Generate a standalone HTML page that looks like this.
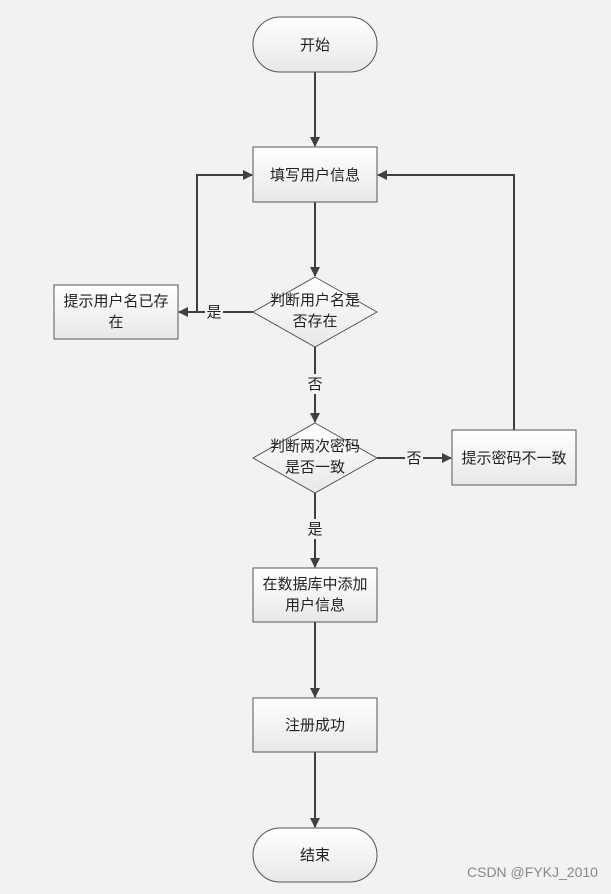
<!DOCTYPE html>
<html><head><meta charset="utf-8"><style>
html,body{margin:0;padding:0;background:#f2f2f2;}
svg text{font-family:"Liberation Sans","Noto Sans CJK SC",sans-serif;font-size:15px;fill:#222;}
</style></head><body>
<svg width="611" height="889" viewBox="0 0 611 889" xmlns="http://www.w3.org/2000/svg">
<defs>
<linearGradient id="g" x1="0" y1="0" x2="0" y2="1"><stop offset="0" stop-color="#ffffff"/><stop offset="1" stop-color="#e8e8e8"/></linearGradient>
<marker id="a" markerWidth="10" markerHeight="10" refX="9" refY="5" orient="auto" markerUnits="userSpaceOnUse"><path d="M0,0 L10,5 L0,10 z" fill="#404040"/></marker>
</defs>
<g stroke="#404040" stroke-width="2" fill="none">
<line x1="315" y1="72" x2="315" y2="146" marker-end="url(#a)"/>
<line x1="315" y1="202" x2="315" y2="276" marker-end="url(#a)"/>
<line x1="253" y1="312" x2="179" y2="312" marker-end="url(#a)"/>
<polyline points="197,312 197,175 252,175" marker-end="url(#a)"/>
<line x1="315" y1="347" x2="315" y2="422" marker-end="url(#a)"/>
<line x1="377" y1="458" x2="451" y2="458" marker-end="url(#a)"/>
<polyline points="514,430 514,175 378,175" marker-end="url(#a)"/>
<line x1="315" y1="493" x2="315" y2="567" marker-end="url(#a)"/>
<line x1="315" y1="622" x2="315" y2="697" marker-end="url(#a)"/>
<line x1="315" y1="752" x2="315" y2="827" marker-end="url(#a)"/>
</g>
<g stroke="#555" stroke-width="1" fill="url(#g)">
<rect x="253" y="17" width="124" height="55" rx="27" ry="27"/>
<rect x="253" y="147" width="124" height="55"/>
<polygon points="315,277 377,312 315,347 253,312"/>
<rect x="54" y="285" width="124" height="54"/>
<polygon points="315,423 377,458 315,493 253,458"/>
<rect x="452" y="430" width="124" height="55"/>
<rect x="253" y="568" width="124" height="54"/>
<rect x="253" y="698" width="124" height="54"/>
<rect x="253" y="828" width="124" height="54" rx="27" ry="27"/>
</g>
<g fill="#f2f2f2">
<rect x="205" y="302" width="18" height="20"/>
<rect x="306" y="374" width="18" height="20"/>
<rect x="405" y="448" width="18" height="20"/>
<rect x="306" y="519" width="18" height="20"/>
</g>
<g text-anchor="middle">
<text x="315" y="50">开始</text>
<text x="315" y="180">填写用户信息</text>
<text x="315" y="305">判断用户名是</text>
<text x="315" y="326">否存在</text>
<text x="116" y="306">提示用户名已存</text>
<text x="116" y="327">在</text>
<text x="214" y="317">是</text>
<text x="315" y="389">否</text>
<text x="315" y="451">判断两次密码</text>
<text x="315" y="472">是否一致</text>
<text x="414" y="463">否</text>
<text x="514" y="463">提示密码不一致</text>
<text x="315" y="534">是</text>
<text x="315" y="589">在数据库中添加</text>
<text x="315" y="610">用户信息</text>
<text x="315" y="730">注册成功</text>
<text x="315" y="860">结束</text>
</g>
<text x="467" y="877" style="font-size:14px;fill:#888">CSDN @FYKJ_2010</text>
</svg>
</body></html>
